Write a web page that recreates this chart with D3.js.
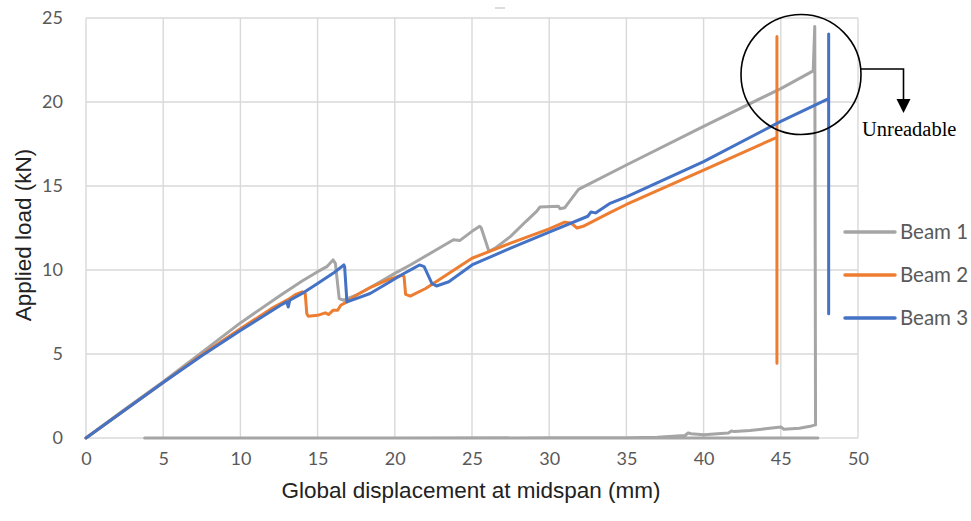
<!DOCTYPE html>
<html>
<head>
<meta charset="utf-8">
<script src="https://cdn.jsdelivr.net/npm/d3@7/dist/d3.min.js"></script>
<style>
  html, body { margin: 0; padding: 0; background: #fff; }
  svg { display: block; }
</style>
</head>
<body>
<svg id="chart" width="971" height="521"></svg>
<script>
// Load–displacement curves of three beams: [displacement (mm), load (kN)]
const beam1 = [
  [0,0],[2.5,1.7],[5,3.35],[7.5,5.1],[10,6.85],[12.6,8.5],[14,9.35],[15,9.9],[15.6,10.2],
  [16.0,10.6],[16.15,10.4],[16.4,8.3],[16.7,8.2],[17.5,8.5],[18.5,9.0],[20,9.8],[21,10.3],
  [22.5,11.1],[23.8,11.8],[24.2,11.75],[25,12.3],[25.5,12.6],[25.6,12.5],[26.1,11.1],
  [26.5,11.3],[27.5,12.0],[28.5,12.9],[29.2,13.5],[29.4,13.75],[30.6,13.8],[30.7,13.65],
  [31.0,13.7],[31.9,14.8],[35,16.25],[40,18.55],[45,20.8],[47.1,21.85],[47.2,24.5],
  [47.25,0.78],[47.0,0.72],[46.2,0.58],[45.2,0.52],[45.0,0.66],[44,0.55],[43,0.45],
  [42,0.38],[41.8,0.42],[41.6,0.3],[40,0.2],[39.2,0.25],[39,0.3],[38.8,0.15],[37,0.05],
  [35,0.02],[30,0.01],[20,0],[10,0],[3.8,0],[47.4,0]
];
const beam2 = [
  [0,0],[2.5,1.65],[5,3.3],[7.5,4.95],[10,6.5],[12,7.7],[13.2,8.3],[13.6,8.55],[14.0,8.7],
  [14.2,8.6],[14.3,7.4],[14.4,7.25],[15,7.3],[15.5,7.45],[15.7,7.35],[16.0,7.6],[16.3,7.6],
  [16.5,7.9],[16.9,8.1],[17.5,8.5],[18.5,9.0],[19.5,9.4],[20.5,9.7],[20.6,9.6],[20.7,8.55],
  [21.0,8.45],[22,8.9],[25,10.7],[27.5,11.6],[30,12.45],[31.0,12.85],[31.4,12.8],
  [31.8,12.5],[32.2,12.6],[33.9,13.4],[35,13.9],[40,15.95],[44.75,17.9],[44.75,23.9],
  [44.75,4.45]
];
const beam3 = [
  [0,0],[2.5,1.65],[5,3.3],[7.5,4.9],[10,6.4],[12.6,7.9],[13.0,8.1],[13.1,7.8],[13.2,8.2],
  [14,8.6],[15,9.2],[16,9.8],[16.7,10.3],[16.75,10.2],[16.9,8.1],[17.5,8.3],[18.4,8.6],
  [19.5,9.2],[20.5,9.75],[21.2,10.1],[21.6,10.3],[21.9,10.2],[22.4,9.2],[22.7,9.05],
  [23.5,9.3],[25,10.3],[27.5,11.3],[30,12.25],[32.5,13.2],[32.7,13.45],[33,13.4],
  [33.9,13.95],[35,14.35],[40,16.45],[45,18.85],[48.1,20.2],[48.1,24.05],[48.1,7.4]
];

const seriesNames = ["Beam 1", "Beam 2", "Beam 3"];
const seriesColors = ["#a5a5a5", "#ed7d31", "#4472c4"];
const xTicks = [0, 5, 10, 15, 20, 25, 30, 35, 40, 45, 50];
const yTicks = [0, 5, 10, 15, 20, 25];

const svg = d3.select("#chart");
const plot = { left: 86, right: 858, top: 18, bottom: 438 };

const x = d3.scaleLinear().domain([0, 50]).range([plot.left, plot.right]);
const y = d3.scaleLinear().domain([0, 25]).range([plot.bottom, plot.top]);

// gridlines
const grid = svg.append("g").attr("stroke", "#d9d9d9").attr("stroke-width", 1.4);
grid.selectAll("line.v").data(xTicks).join("line")
  .attr("x1", d => x(d)).attr("x2", d => x(d))
  .attr("y1", plot.top).attr("y2", plot.bottom);
grid.selectAll("line.h").data(yTicks).join("line")
  .attr("x1", plot.left).attr("x2", plot.right)
  .attr("y1", d => y(d)).attr("y2", d => y(d));

// axes (labels only)
const tickFont = "Lato, 'Open Sans', sans-serif";
const xAxis = svg.append("g")
  .attr("transform", `translate(0,${plot.bottom + 14})`)
  .call(d3.axisBottom(x).tickValues(xTicks).tickSize(0).tickPadding(0));
xAxis.select(".domain").remove();
xAxis.selectAll("text").attr("fill", "#595959").attr("font-size", 18)
  .attr("font-family", tickFont).attr("dy", "0.71em");

const yAxis = svg.append("g")
  .attr("transform", `translate(${plot.left - 23},0)`)
  .call(d3.axisLeft(y).tickValues(yTicks).tickSize(0).tickPadding(0));
yAxis.select(".domain").remove();
yAxis.selectAll("text").attr("fill", "#595959").attr("font-size", 18)
  .attr("font-family", tickFont);

// axis titles
svg.append("text")
  .attr("x", 471).attr("y", 498)
  .attr("text-anchor", "middle")
  .attr("font-family", "'Liberation Sans', Arial, sans-serif")
  .attr("font-size", 22.5).attr("fill", "#222")
  .text("Global displacement at midspan (mm)");

svg.append("text")
  .attr("transform", "translate(31,235) rotate(-90)")
  .attr("text-anchor", "middle")
  .attr("font-family", "'Liberation Sans', Arial, sans-serif")
  .attr("font-size", 22.5).attr("fill", "#222")
  .text("Applied load (kN)");

// curves
const line = d3.line().x(d => x(d[0])).y(d => y(d[1]));
const allSeries = [beam1, beam2, beam3];
svg.append("g").selectAll("path").data(allSeries).join("path")
  .attr("d", line)
  .attr("fill", "none")
  .attr("stroke", (d, i) => seriesColors[i])
  .attr("stroke-width", 3)
  .attr("stroke-linejoin", "round")
  .attr("stroke-linecap", "round");

// legend
const legend = svg.append("g");
const legendY = [232, 275, 318];
seriesNames.forEach((name, i) => {
  legend.append("line")
    .attr("x1", 845).attr("x2", 895)
    .attr("y1", legendY[i]).attr("y2", legendY[i])
    .attr("stroke", seriesColors[i]).attr("stroke-width", 3.5)
    .attr("stroke-linecap", "round");
  legend.append("text")
    .attr("x", 900).attr("y", legendY[i]).attr("dy", "0.36em")
    .attr("font-family", tickFont).attr("font-size", 20.5)
    .attr("fill", "#595959")
    .text(name);
});

// small stray mark above the plot
svg.append("line")
  .attr("x1", 495).attr("x2", 505).attr("y1", 8).attr("y2", 8)
  .attr("stroke", "#d0d0d0").attr("stroke-width", 1.5);

// annotation: circle around the failure region with pointer
const ann = svg.append("g");
ann.append("circle")
  .attr("cx", 801).attr("cy", 74.5).attr("r", 60)
  .attr("fill", "none").attr("stroke", "#000").attr("stroke-width", 1.6);
ann.append("polyline")
  .attr("points", "861,69 903.5,69 903.5,100")
  .attr("fill", "none").attr("stroke", "#000").attr("stroke-width", 1.6);
ann.append("path")
  .attr("d", "M896.5,99 L910.5,99 L903.5,113 Z")
  .attr("fill", "#000");
ann.append("text")
  .attr("x", 862).attr("y", 136)
  .attr("font-family", "'Liberation Serif', 'Times New Roman', serif")
  .attr("font-size", 20.5).attr("fill", "#000")
  .text("Unreadable");
</script>
</body>
</html>
